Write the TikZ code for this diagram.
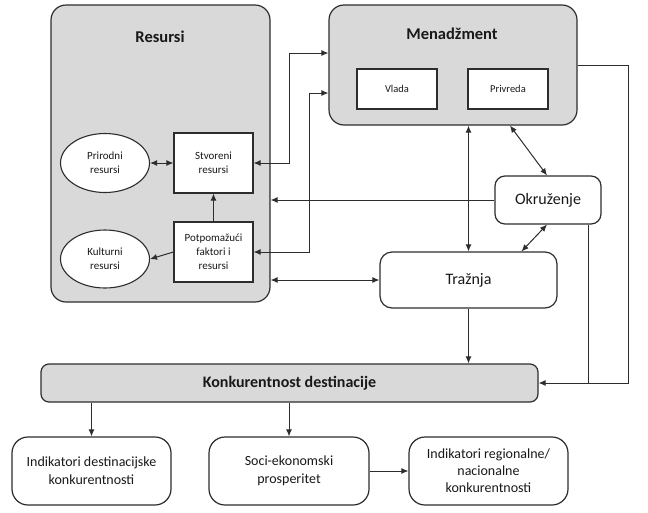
\documentclass[tikz,border=0pt]{standalone}
\usepackage{fontspec}
\setmainfont{Carlito}
\usetikzlibrary{shapes,arrows.meta,positioning,calc}
\definecolor{panelgray}{RGB}{217,217,217}
\definecolor{linegray}{RGB}{45,45,45}
\definecolor{textgray}{RGB}{25,25,25}

\begin{document}
\begin{tikzpicture}[x=1pt, y=-1pt, >={Latex[length=7pt,width=6pt]},
    panel/.style={draw=linegray, line width=1.2pt, fill=panelgray, rounded corners=15pt, inner sep=0pt},
    innerbox/.style={draw=linegray, line width=1.1pt, fill=white, align=center, text=textgray,
        font=\fontsize{11}{14}\selectfont, inner sep=0pt},
    oval/.style={ellipse, draw=linegray, line width=1.1pt, fill=white, align=center, text=textgray,
        font=\fontsize{11}{14}\selectfont, inner sep=0pt, minimum width=89pt, minimum height=59pt},
    roundbox/.style={draw=linegray, line width=1.2pt, fill=white, align=center, text=textgray,
        rounded corners=#1, inner sep=0pt},
    roundbox/.default=14pt,
    conn/.style={draw=linegray, line width=1pt}]
    \useasboundingbox (0,0) rectangle (648,512);

    % Resursi
    \node[panel, minimum width=219pt, minimum height=297pt] (resursi) at (160.5,153.5) {};
    \node[font=\fontsize{16.5}{19}\selectfont\bfseries, text=textgray] (resursititle) at (160,37) {Resursi};
    \node[oval] (prirodni) at (105,163) {Prirodni\\resursi};
    \node[oval, minimum height=58pt] (kulturni) at (105,259) {Kulturni\\resursi};
    \node[innerbox, minimum width=79pt, minimum height=60pt] (stvoreni) at (213.5,163) {Stvoreni\\resursi};
    \node[innerbox, minimum width=79pt, minimum height=60pt] (potpom) at (213.5,252) {Potpomažući\\faktori i\\resursi};

    % Menadzment
    \node[panel, minimum width=248pt, minimum height=120pt] (menadzment) at (453,65) {};
    \node[font=\fontsize{16.5}{19}\selectfont\bfseries, text=textgray] (mentitle) at (452,34) {Menadžment};
    \node[innerbox, font=\fontsize{10.5}{12}\selectfont, minimum width=80pt, minimum height=40pt] (vlada) at (397,89) {Vlada};
    \node[innerbox, font=\fontsize{10.5}{12}\selectfont, minimum width=80pt, minimum height=40pt] (privreda) at (508,89) {Privreda};

    % Okruzenje i Traznja
    \node[roundbox=10pt, font=\fontsize{16}{19}\selectfont, minimum width=106pt, minimum height=48pt] (okruzenje) at (548,200) {Okruženje};
    \node[roundbox=12pt, font=\fontsize{16}{19}\selectfont, minimum width=177pt, minimum height=56pt] (traznja) at (468.5,280) {Tražnja};

    % Konkurentnost
    \node[panel, rounded corners=8pt, minimum width=497pt, minimum height=38pt,
        font=\fontsize{16}{19}\selectfont\bfseries, text=textgray] (konk) at (289.5,383) {Konkurentnost destinacije};

    % Indikatori
    \node[roundbox=16pt, font=\fontsize{14}{18}\selectfont, minimum width=159pt, minimum height=68pt] (ind1) at (91.5,471) {Indikatori destinacijske\\konkurentnosti};
    \node[roundbox=16pt, font=\fontsize{14}{18}\selectfont, minimum width=160pt, minimum height=68pt] (soci) at (289,471) {Soci-ekonomski\\prosperitet};
    \node[roundbox=16pt, font=\fontsize{14}{17}\selectfont, minimum width=159pt, minimum height=68pt] (ind2) at (488.5,471) {Indikatori regionalne/\\nacionalne\\konkurentnosti};

    % Veze unutar resursa
    \draw[conn, <->] (prirodni.east) -- (stvoreni.west);
    \draw[conn, ->] (potpom.north) -- (stvoreni.south);
    \draw[conn, ->] (potpom.west) -- (kulturni.east);

    % Resursi - Menadzment
    \draw[conn, <->] (stvoreni.east) -- ++(36,0) |- ([yshift=12pt]menadzment.west);
    \draw[conn, <->] (potpom.east) -- ++(56,0) |- ([yshift=-28pt]menadzment.west);
    \draw[conn, ->] (okruzenje.west) -- (resursi.east |- okruzenje.west);
    \draw[conn, <->] (resursi.east |- traznja.west) -- (traznja.west);

    % Menadzment, Okruzenje, Traznja
    \draw[conn, <->] (traznja.north |- menadzment.south) -- (traznja.north);
    \draw[conn, <->] ([xshift=57pt]menadzment.south) -- ([xshift=-1pt]okruzenje.north);
    \draw[conn, <->] ([xshift=-1pt]okruzenje.south) -- ([xshift=53pt]traznja.north);

    % Prema konkurentnosti
    \draw[conn, ->] (traznja.south) -- (traznja.south |- konk.north);
    \draw[conn, ->] (menadzment.east) -- ++(51,0) |- (konk.east);
    \draw[conn] ([xshift=40pt]okruzenje.south) -- ([xshift=40pt]okruzenje.south |- konk.east);
    \draw[conn, ->] (ind1.north |- konk.south) -- (ind1.north);
    \draw[conn, ->] (soci.north |- konk.south) -- (soci.north);
    \draw[conn, ->] (soci.east) -- (ind2.west);
\end{tikzpicture}
\end{document}
